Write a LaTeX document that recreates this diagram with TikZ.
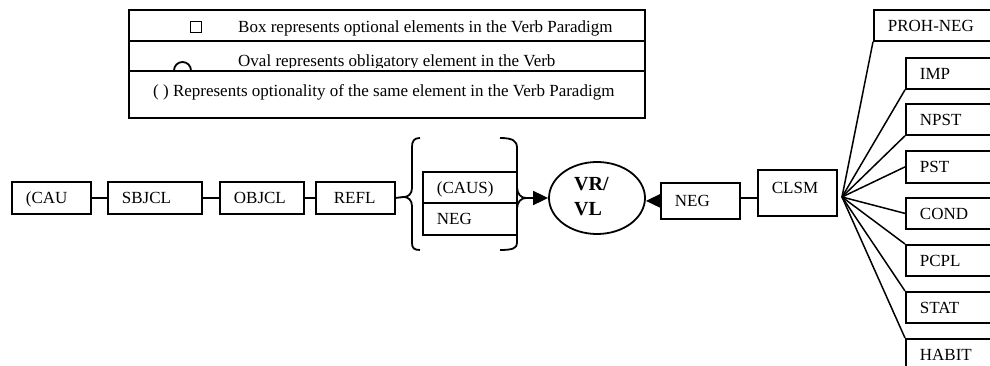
\documentclass[tikz,border=0pt]{standalone}
\usepackage{fontspec}
\setmainfont{Liberation Serif}
\usetikzlibrary{shapes.geometric,arrows.meta}
\tikzset{
  txt/.style={font=\fontsize{17pt}{20pt}\selectfont},
  bx/.style={draw, line width=1.8pt, anchor=north west, align=left,
    inner xsep=14pt, inner ysep=2pt, text height=12pt, text depth=0pt,
    minimum height=32pt, txt},
  rbx/.style={bx, text width=100pt, minimum height=31pt},
  ln/.style={line width=1.8pt},
  fanline/.style={line width=1.5pt},
  tip/.style={line width=1.8pt, -{Triangle[length=15pt,width=14pt]}},
  lgtext/.style={txt, anchor=base west, inner sep=0pt},
  vrfont/.style={font=\fontsize{20pt}{24pt}\selectfont\bfseries, anchor=base west, inner sep=0pt}
}
\begin{document}
\begin{tikzpicture}[x=1pt, y=-1pt]
\clip (0,0) rectangle (990,366);

% legend table
\draw[ln] (129,10) rectangle (645,118);
\draw[ln] (129,41) -- (645,41);
\draw[ln] (129,71) -- (645,71);
\node[draw, line width=0.9pt, minimum size=11pt, inner sep=0pt] (sq) at (196,27) {};
\node[lgtext] (leg1) at (238,33) {Box represents optional elements in the Verb Paradigm};
\begin{scope}
  \clip (129,41) rectangle (645,70.3);
  \draw[ln] (182.5,70.5) circle (8.5);
\end{scope}
\begin{scope}
  \clip (129,41) rectangle (645,67.6);
  \node[lgtext] (leg2) at (238,66.5) {Oval represents obligatory element in the Verb};
\end{scope}
\node[lgtext] (leg3) at (153,97) {( ) Represents optionality of the same element in the Verb Paradigm};

% prefix chain
\node[bx, text width=51pt] (cau) at (11,181) {(CAU};
\node[bx, text width=66pt] (sbjcl) at (107,181) {SBJCL};
\node[bx, text width=56pt] (objcl) at (219,181) {OBJCL};
\node[bx, inner xsep=18pt, text width=43pt] (refl) at (315,181) {REFL};
\draw[ln] (cau) -- (sbjcl);
\draw[ln] (sbjcl) -- (objcl);
\draw[ln] (objcl) -- (refl);

% braced alternatives
\node[bx, minimum height=31pt, text width=66pt] (caus) at (422,171) {(CAUS)};
\node[bx, text width=66pt] (negl) at (422,202) {NEG};
\coordinate (lb) at (404,197);
\coordinate (rb) at (526,198);
\draw[ln] (420,138) .. controls (414,138) and (412,141) .. (412,147) -- (412,188)
  .. controls (412,194) and (408,197) .. (lb)
  .. controls (408,197) and (412,200) .. (412,206) -- (412,243)
  .. controls (412,248) and (414,250) .. (420,250);
\draw[ln] (500,138) .. controls (513,138) and (517,141) .. (517,148) -- (517,187)
  .. controls (517,194) and (521,198) .. (rb)
  .. controls (521,198) and (517,202) .. (517,209) -- (517,243)
  .. controls (517,248) and (513,250) .. (500,250);
\draw[ln] (refl.east) -- (lb);

% verb root
\node[draw, line width=1.8pt, ellipse, minimum width=96pt, minimum height=72pt, inner sep=0pt] (vr) at (597,198) {};
\node[vrfont] (vr1) at (574,191) {VR/};
\node[vrfont] (vr2) at (574,215) {VL};
\draw[tip] (rb) -- (rb -| vr.west);

% suffix side
\node[bx, minimum height=36pt, text width=51pt] (negr) at (660,182) {NEG};
\node[bx, minimum height=46pt, text width=51pt, text height=22pt, text depth=20pt] (clsm) at (757,169) {CLSM};
\draw[tip] (negr.west) -- (negr.west -| vr.east);
\draw[ln] ([yshift=3pt]negr.east) -- ([yshift=3pt]negr.east -| clsm.west);

% mood / tense endings
\node[rbx] (proh) at (873,9) {PROH-NEG};
\node[rbx] (imp) at (905,57) {IMP};
\node[rbx] (npst) at (905,103) {NPST};
\node[rbx, minimum height=32pt] (pst) at (905,150) {PST};
\node[rbx] (cond) at (905,197) {COND};
\node[rbx] (pcpl) at (905,244) {PCPL};
\node[rbx] (stat) at (905,291) {STAT};
\node[rbx] (habit) at (905,338) {HABIT};

\coordinate (fan) at (842,197);
\foreach \n/\a in {proh/south west, imp/south west, npst/south west, pst/west,
                   cond/west, pcpl/north west, stat/north west, habit/north west}
  \draw[fanline] (fan) -- (\n.\a);
\end{tikzpicture}
\end{document}
